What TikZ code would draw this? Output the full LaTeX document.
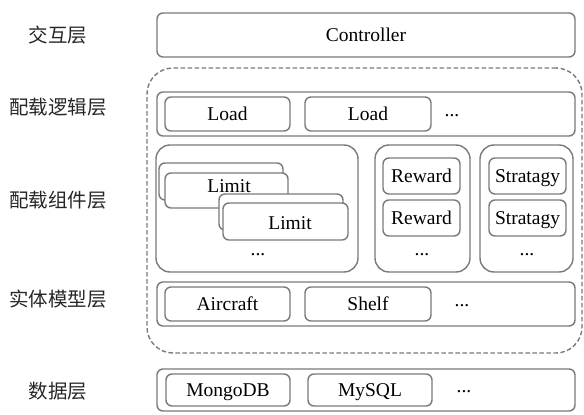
\documentclass[tikz,border=0pt]{standalone}
\usepackage{fontspec}
\setmainfont{Liberation Serif}
\newfontfamily\cjk{Noto Sans CJK SC}
\begin{document}
\begin{tikzpicture}[x=1pt,y=-1pt,
  every node/.style={inner sep=0pt,outer sep=0pt},
  txt/.style={font=\fontsize{19.5}{22}\selectfont,text height=13pt,text depth=0pt},
  layer/.style={font=\cjk\fontsize{19.5}{22}\selectfont,text=black!85},
  rowbox/.style={draw=black!52,line width=1.4pt,rounded corners=6pt,minimum height=44pt,minimum width=418pt},
  itembox/.style={draw=black!52,line width=1.4pt,rounded corners=6pt,fill=white,minimum height=34pt,txt},
  holder/.style={draw=black!52,line width=1.4pt,rounded corners=14pt,minimum height=127pt},
  group/.style={draw=black!52,line width=1.4pt,dash pattern=on 4.5pt off 2.5pt,rounded corners=26pt},
  dots/.style={font=\fontsize{19.5}{22}\selectfont}]
\useasboundingbox (0,0) rectangle (584,415);

% layer names
\node[layer] (l1) at (58,35) {交互层};
\node[layer] (l2) at (58,107) {配载逻辑层};
\node[layer] (l3) at (58,200) {配载组件层};
\node[layer] (l4) at (58,299) {实体模型层};
\node[layer] (l5) at (58,391) {数据层};

% interaction layer
\node[rowbox,txt] (ctrl) at (366,35) {Controller};

% dashed group around the three middle layers
\node[group,minimum width=435pt,minimum height=285pt] (grp) at (364.5,210.5) {};

% logic layer
\node[rowbox] (logic) at (366,114) {};
\node[itembox,minimum width=125pt] (load1) at (227.5,114) {Load};
\node[itembox,minimum width=126pt] (load2) at (368,114) {Load};
\node[dots] (ldots) at (452,116) {...};

% component layer
\node[holder,minimum width=202pt] (limits) at (257,208.5) {};
\node[holder,minimum width=95pt] (rewards) at (422.5,208.5) {};
\node[holder,minimum width=93pt] (strats) at (526.5,208.5) {};

\node[itembox,minimum width=124pt,minimum height=37pt] (limA) at (221,181.5) {};
\node[itembox,minimum width=123pt,minimum height=35pt] (limB) at (226.5,190.5) {};
\node[txt] (limBt) at (229,186) {Limit};
\node[itembox,minimum width=124pt,minimum height=36pt] (limC) at (281,212) {};
\node[itembox,minimum width=125pt,minimum height=37pt] (limD) at (285.5,221.5) {};
\node[txt] (limDt) at (290,223) {Limit};
\node[dots] (limdots) at (258,255) {...};

\node[itembox,minimum width=77pt,minimum height=36pt] (rw1) at (421.5,176) {Reward};
\node[itembox,minimum width=77pt,minimum height=36pt] (rw2) at (421.5,218) {Reward};
\node[dots] (rwdots) at (422,255) {...};

\node[itembox,minimum width=77pt,minimum height=36pt] (st1) at (527.5,176) {Stratagy};
\node[itembox,minimum width=77pt,minimum height=36pt] (st2) at (527.5,218) {Stratagy};
\node[dots] (stdots) at (527,255) {...};

% entity model layer
\node[rowbox] (entity) at (366,304) {};
\node[itembox,minimum width=125pt] (air) at (227.5,304) {Aircraft};
\node[itembox,minimum width=126pt] (shelf) at (368,304) {Shelf};
\node[dots] (edots) at (462,306) {...};

% data layer
\node[rowbox,minimum height=42pt] (data) at (366,390) {};
\node[itembox,minimum width=124pt,minimum height=32pt] (mongo) at (228,390) {MongoDB};
\node[itembox,minimum width=124pt,minimum height=32pt] (mysql) at (370,390) {MySQL};
\node[dots] (ddots) at (464,392) {...};
\end{tikzpicture}
\end{document}
